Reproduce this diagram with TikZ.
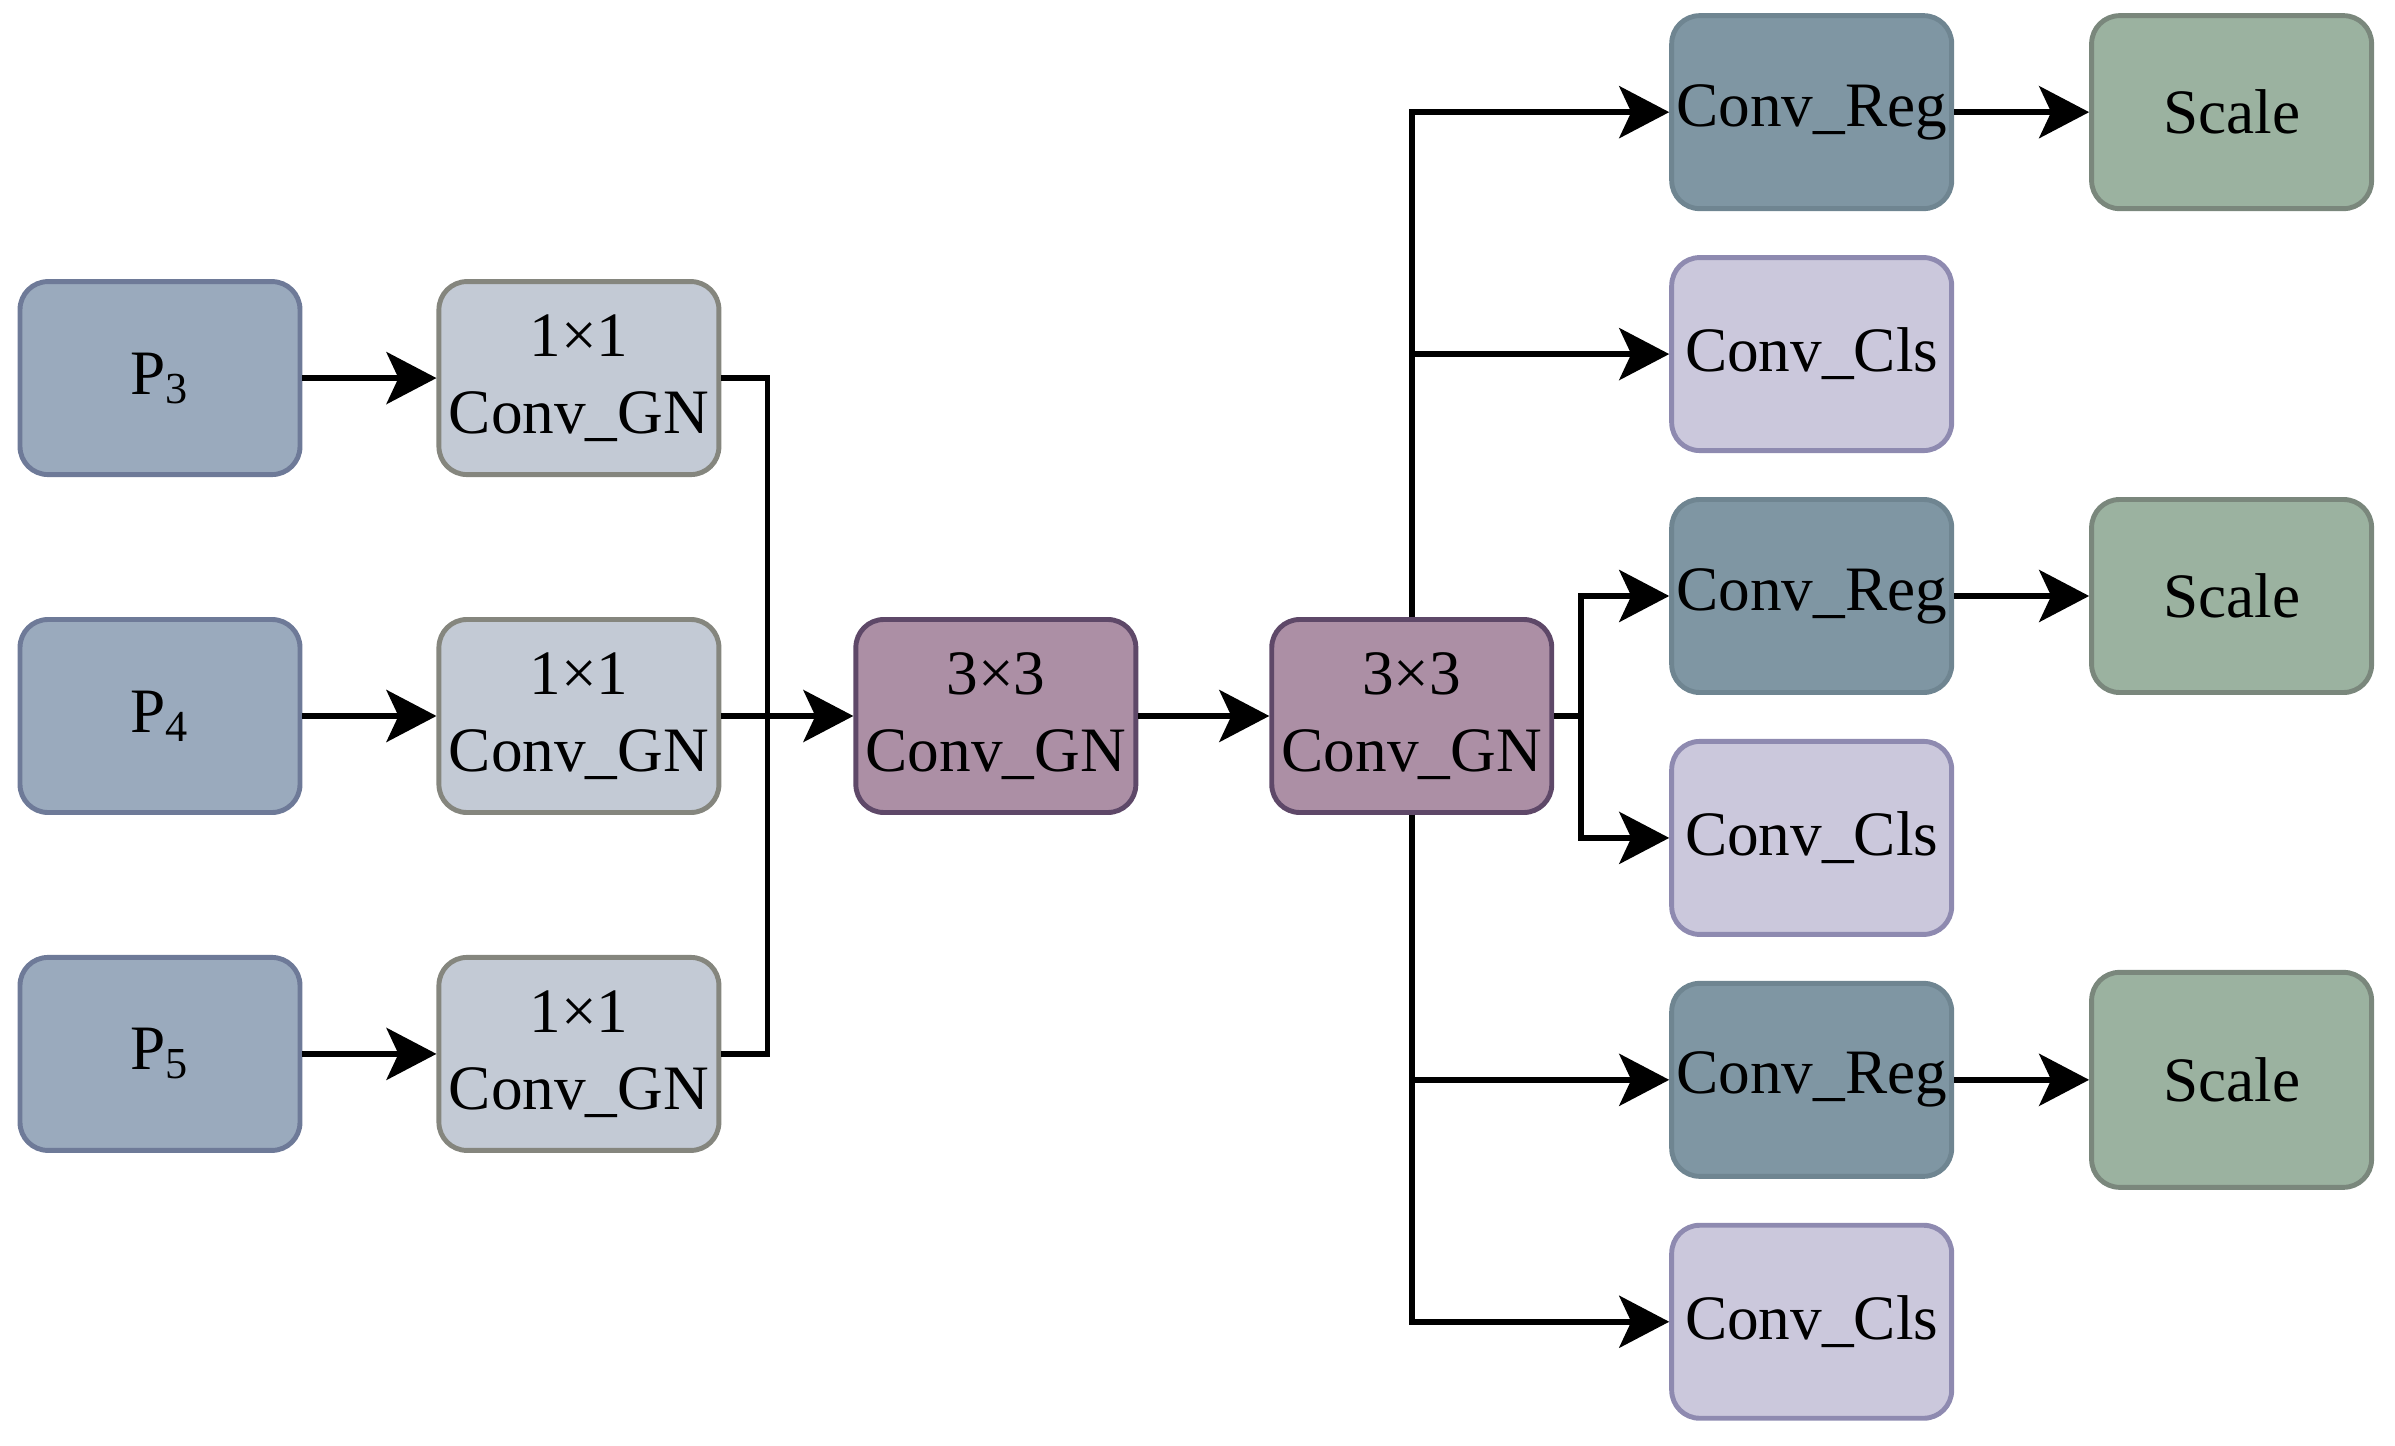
\documentclass[tikz,border=0pt]{standalone}
\usepackage{fontspec}
\setmainfont{Liberation Serif}
\usepackage{tikz}
\usetikzlibrary{arrows.meta, positioning, calc}

\definecolor{pfill}{HTML}{9AAABD}
\definecolor{pdraw}{HTML}{6E7A98}
\definecolor{onefill}{HTML}{C3CAD5}
\definecolor{onedraw}{HTML}{85867E}
\definecolor{threefill}{HTML}{AC8FA5}
\definecolor{threedraw}{HTML}{5E4868}
\definecolor{regfill}{HTML}{7F96A3}
\definecolor{regdraw}{HTML}{6F8591}
\definecolor{clsfill}{HTML}{CBC8DC}
\definecolor{clsdraw}{HTML}{8E8AB0}
\definecolor{scalefill}{HTML}{9BB2A0}
\definecolor{scaledraw}{HTML}{7A877C}

\begin{document}
\begin{tikzpicture}[
        node distance=1.40cm and 1.34cm,
        box/.style={rectangle, draw, line width=1.4pt, rounded corners=0.28cm, align=center, minimum width=2.8cm, minimum height=1.93cm, inner sep=0pt, font=\fontsize{18pt}{22pt}\selectfont},
        feat/.style={box, fill=pfill, draw=pdraw},
        onebox/.style={box, fill=onefill, draw=onedraw},
        threebox/.style={box, fill=threefill, draw=threedraw},
        regbox/.style={box, fill=regfill, draw=regdraw},
        clsbox/.style={box, fill=clsfill, draw=clsdraw},
        scalebox/.style={box, fill=scalefill, draw=scaledraw},
        line/.style={line width=1.6pt},
        arr/.style={line, -{Stealth[length=0.5cm, width=0.52cm, inset=0.12cm]}}
    ]
    \useasboundingbox (0,0) rectangle (23.95,14.45);

    % Feature levels
    \node[feat] (p4) at (1.60,7.29) {P\textsubscript{4}};
    \node[feat, above=of p4] (p3) {P\textsubscript{3}};
    \node[feat, below=of p4] (p5) {P\textsubscript{5}};

    % 1x1 convs
    \node[onebox, right=of p3] (c3) {1×1\\Conv\_GN};
    \node[onebox, right=of p4] (c4) {1×1\\Conv\_GN};
    \node[onebox, right=of p5] (c5) {1×1\\Conv\_GN};

    % Shared 3x3 convs
    \node[threebox, right=1.32cm of c4] (m1) {3×3\\Conv\_GN};
    \node[threebox, right=1.31cm of m1] (m2) {3×3\\Conv\_GN};

    % Heads
    \node[regbox, right=1.15cm of m2, yshift=1.2cm] (r2) {Conv\_Reg};
    \node[clsbox, below=0.44cm of r2] (k2) {Conv\_Cls};
    \node[clsbox, above=0.44cm of r2] (k1) {Conv\_Cls};
    \node[regbox, above=0.44cm of k1] (r1) {Conv\_Reg};
    \node[regbox, below=0.44cm of k2] (r3) {Conv\_Reg};
    \node[clsbox, below=0.44cm of r3] (k3) {Conv\_Cls};

    \node[scalebox, right=1.35cm of r1] (s1) {Scale};
    \node[scalebox, right=1.35cm of r2] (s2) {Scale};
    \node[scalebox, right=1.35cm of r3, minimum height=2.15cm] (s3) {Scale};

    % Connections
    \draw[arr] (p3) -- (c3);
    \draw[arr] (p4) -- (c4);
    \draw[arr] (p5) -- (c5);
    \coordinate[right=0.46cm of c3.east] (bustop);
    \coordinate[right=0.46cm of c5.east] (busbot);
    \draw[line] (c3.east) -- (bustop) -- (busbot) -- (c5.east);
    \draw[arr] (c4) -- (m1);
    \draw[arr] (m1) -- (m2);
    \draw[arr] (m2.north) |- (r1.west);
    \draw[arr] (m2.north) |- (k1.west);
    \coordinate[right=0.27cm of m2.east] (fork);
    \draw[arr] (m2.east) -- (fork) |- (r2.west);
    \draw[arr] (fork) |- (k2.west);
    \draw[arr] (m2.south) |- (r3.west);
    \draw[arr] (m2.south) |- (k3.west);
    \draw[arr] (r1) -- (s1);
    \draw[arr] (r2) -- (s2);
    \draw[arr] (r3) -- (s3);
\end{tikzpicture}
\end{document}
